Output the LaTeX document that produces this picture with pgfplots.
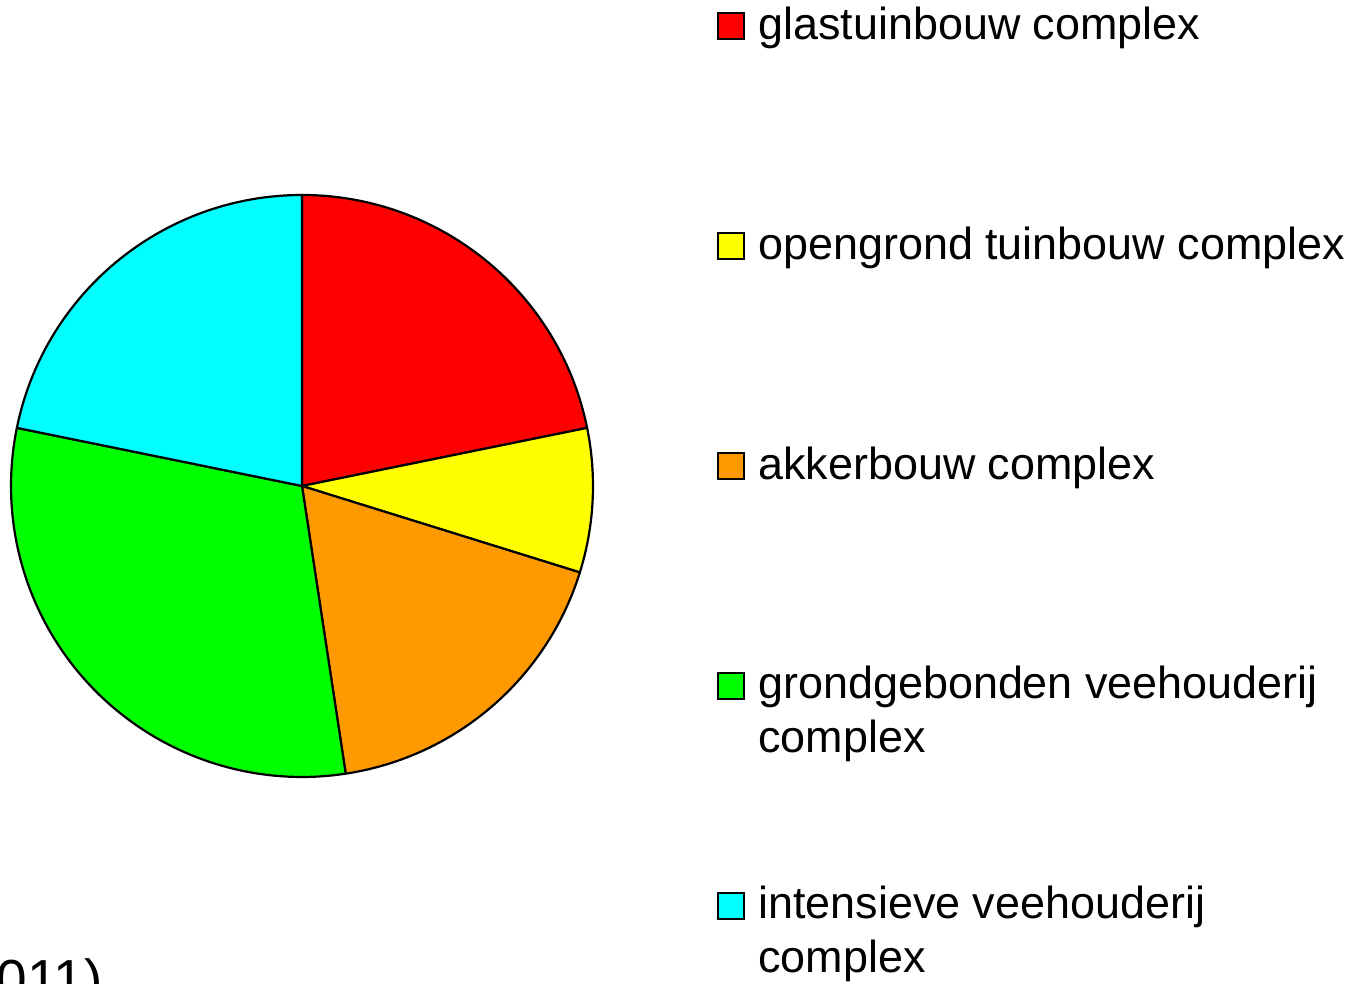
\documentclass[border=0pt]{standalone}
\usepackage{pgfplots}
\usepackage{pgfplotstable}
\pgfplotsset{compat=1.18}
\usepackage{fontspec}
\setmainfont{Liberation Sans}
\definecolor{cRed}{HTML}{FF0000}
\definecolor{cYellow}{HTML}{FFFF00}
\definecolor{cOrange}{HTML}{FF9900}
\definecolor{cGreen}{HTML}{00FF00}
\definecolor{cCyan}{HTML}{00FFFF}
\pgfplotstableread{
value col
21.8 cRed
8.0 cYellow
17.8 cOrange
30.6 cGreen
21.8 cCyan
}\piedata
\begin{document}
\begin{tikzpicture}[x=1pt,y=1pt]
\path[use as bounding box] (0,0) rectangle (683.5,492);
\clip (0,0) rectangle (683.5,492);
\begin{axis}[at={(151pt,249pt)}, anchor=origin, x=145.5pt, y=145.5pt,
  xmin=-1, xmax=1, ymin=-1, ymax=1, hide axis, clip=false]
\addplot[draw=none] coordinates {(0,0)};
\pgfplotsextra{
  \xdef\pieangle{90}
  \foreach \i in {0,...,4}{
    \pgfplotstablegetelem{\i}{value}\of{\piedata}
    \pgfmathsetmacro{\sweep}{3.6*\pgfplotsretval}
    \pgfmathsetmacro{\endang}{\pieangle-\sweep}
    \pgfplotstablegetelem{\i}{col}\of{\piedata}
    \edef\slicecol{\pgfplotsretval}
    \filldraw[fill=\slicecol, draw=black, line width=1.1pt, line join=round]
      (axis cs:0,0) -- ++(\pieangle:145.5pt)
      arc[start angle=\pieangle, end angle=\endang, radius=145.5pt] -- cycle;
    \xdef\pieangle{\endang}
  }
}
\end{axis}
\begin{scope}[every node/.style={inner sep=0pt, anchor=base west,
   font=\fontsize{22.45pt}{26.8pt}\selectfont}]
\foreach \c/\t [count=\k from 0] in {cRed/{glastuinbouw complex},
  cYellow/{opengrond tuinbouw complex},
  cOrange/{akkerbouw complex},
  cGreen/{grondgebonden veehouderij\\complex},
  cCyan/{intensieve veehouderij\\complex}}{
  \pgfmathsetmacro{\sy}{(984-26.5-220*\k)*0.5}
  \pgfmathsetmacro{\by}{(984-39.8-219.7*\k)*0.5}
  \filldraw[fill=\c, draw=black, line width=1pt] (359,\sy-6.5) rectangle (372,\sy+6.5);
  \node at (379,\by) {\begin{tabular}[t]{@{}l@{}}\t\end{tabular}};
}
\node[anchor=base east, font=\fontsize{27.5pt}{33pt}\selectfont] at (51.5,-7.5) {(2011)};
\end{scope}
\end{tikzpicture}
\end{document}
